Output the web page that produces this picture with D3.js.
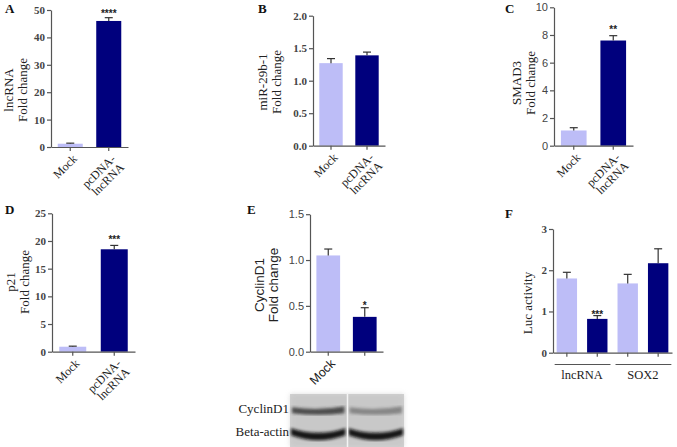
<!DOCTYPE html>
<html>
<head>
<meta charset="utf-8">
<script src="https://d3js.org/d3.v7.min.js"></script>
<style>
  body { margin: 0; background: #fff; }
  svg { display: block; }
</style>
</head>
<body>
<script>
// ---- data ----
var twoGroups = ["Mock", "pcDNA-\nlncRNA"];
var lncValues = [1.2, 46.0];
var lncErrors = [0.2, 1.2];
var lncTicks = [0, 10, 20, 30, 40, 50];

var mirValues = [1.27, 1.39];
var mirErrors = [0.07, 0.05];
var mirTicks = [0, 0.5, 1.0, 1.5, 2.0];

var smadValues = [1.1, 7.6];
var smadErrors = [0.2, 0.35];
var smadTicks = [0, 2, 4, 6, 8, 10];

var p21Values = [0.9, 18.5];
var p21Errors = [0.1, 0.7];
var p21Ticks = [0, 5, 10, 15, 20, 25];

var cyclinLabels = ["Mock", ""];
var cyclinValues = [1.05, 0.38];
var cyclinErrors = [0.07, 0.1];
var cyclinTicks = [0, 0.5, 1.0, 1.5];

var lucGroups = ["lncRNA", "SOX2"];
var lucBars = ["lncRNA-mock", "lncRNA-pc", "SOX2-mock", "SOX2-pc"];
var lucValues = [1.8, 0.82, 1.68, 2.17];
var lucErrors = [0.15, 0.08, 0.22, 0.35];
var lucTicks = [0, 1, 2, 3];

var blotRows = ["CyclinD1", "Beta-actin"];

var light = "#bdbdf7";
var navy = "#00007d";
var serif = "'Liberation Serif', 'DejaVu Serif', serif";
var sans = "'Liberation Sans', Arial, sans-serif";

var svg = d3.select("body").append("svg")
    .attr("width", 677)
    .attr("height", 447);

function panel(cfg) {
    var g = svg.append("g");
    var y = d3.scaleLinear().domain([0, cfg.max]).range([cfg.yBottom, cfg.yTop]);
    var x = d3.scaleBand().domain(cfg.keys).range([cfg.axisX, cfg.axisEnd])
        .paddingInner(cfg.padIn || 0.35).paddingOuter(cfg.padOut || 0.175);

    // bars
    g.selectAll(".bar").data(cfg.values).join("rect")
        .attr("x", (d, i) => x(cfg.keys[i]))
        .attr("y", d => y(d))
        .attr("width", x.bandwidth())
        .attr("height", d => cfg.yBottom - y(d))
        .attr("fill", (d, i) => cfg.colors[i]);

    // error bars (upper only)
    var eb = g.selectAll(".err").data(cfg.values).join("g");
    eb.append("line")
        .attr("x1", (d, i) => x(cfg.keys[i]) + x.bandwidth() / 2)
        .attr("x2", (d, i) => x(cfg.keys[i]) + x.bandwidth() / 2)
        .attr("y1", d => y(d))
        .attr("y2", (d, i) => y(d + cfg.errors[i]))
        .attr("stroke", "#333").attr("stroke-width", 1.2);
    eb.append("line")
        .attr("x1", (d, i) => x(cfg.keys[i]) + x.bandwidth() / 2 - 4)
        .attr("x2", (d, i) => x(cfg.keys[i]) + x.bandwidth() / 2 + 4)
        .attr("y1", (d, i) => y(d + cfg.errors[i]))
        .attr("y2", (d, i) => y(d + cfg.errors[i]))
        .attr("stroke", "#333").attr("stroke-width", 1.2);

    // stars
    if (cfg.stars) {
        cfg.stars.forEach(function(s, i) {
            if (!s) return;
            g.append("text")
                .attr("x", x(cfg.keys[i]) + x.bandwidth() / 2)
                .attr("y", y(cfg.values[i] + cfg.errors[i]) + (cfg.starDy || -1))
                .attr("text-anchor", "middle")
                .attr("font-family", sans)
                .attr("font-size", 10)
                .attr("font-weight", "bold")
                .attr("fill", "#222")
                .text(s);
        });
    }

    // y axis
    var ya = g.append("g")
        .attr("transform", "translate(" + cfg.axisX + ",0)")
        .call(d3.axisLeft(y).tickValues(cfg.ticks).tickFormat(cfg.fmt || d3.format("d"))
            .tickSize(4).tickSizeOuter(0).tickPadding(2));
    ya.selectAll("path, line").attr("stroke", "#555").attr("stroke-width", 1.2);
    ya.selectAll("text")
        .attr("font-family", cfg.tickFont || serif)
        .attr("font-size", 11)
        .attr("font-weight", cfg.tickFont === sans ? "normal" : "bold")
        .attr("fill", "#444");

    // x axis
    var xa = g.append("g")
        .attr("transform", "translate(0," + cfg.yBottom + ")")
        .call(d3.axisBottom(x).tickFormat("").tickSize(4).tickSizeOuter(0));
    xa.selectAll("path, line").attr("stroke", "#555").attr("stroke-width", 1.2);

    // rotated x labels
    if (cfg.labels) {
        cfg.labels.forEach(function(lab, i) {
            if (!lab) return;
            var cx = x(cfg.keys[i]) + x.bandwidth() / 2;
            var t = g.append("text")
                .attr("transform", "translate(" + (cx + 5) + "," + (cfg.yBottom + 10) + ") rotate(-45)")
                .attr("text-anchor", "end")
                .attr("font-family", cfg.labelFont || serif)
                .attr("font-size", cfg.labelFont === sans ? 12.5 : 12)
                .attr("fill", "#222");
            lab.split("\n").forEach(function(part, j) {
                t.append("tspan").attr("x", 0).attr("dy", j === 0 ? "0.3em" : "1.0em").text(part);
            });
        });
    }

    // y title
    var tt = g.append("text")
        .attr("transform", "translate(" + cfg.titleX + "," + cfg.titleY + ") rotate(-90)")
        .attr("text-anchor", "middle")
        .attr("font-family", cfg.titleFont || serif)
        .attr("font-size", cfg.titleFont === sans ? 13.5 : 13)
        .attr("fill", "#222");
    cfg.title.forEach(function(part, j) {
        tt.append("tspan").attr("x", 0).attr("dy", j === 0 ? 0 : 14).text(part);
    });

    // panel letter
    svg.append("text")
        .attr("x", cfg.letterX).attr("y", cfg.letterY)
        .attr("font-family", serif).attr("font-weight", "bold")
        .attr("font-size", 13).attr("fill", "#111")
        .text(cfg.letter);
    return {x: x, y: y};
}

panel({letter: "A", letterX: 5, letterY: 13,
    keys: ["m", "p"], values: lncValues, errors: lncErrors, colors: [light, navy],
    labels: twoGroups, stars: ["", "****"], starDy: -1,
    axisX: 51, axisEnd: 128, yTop: 10, yBottom: 147, max: 50, ticks: lncTicks,
    title: ["lncRNA", "Fold change"], titleX: 12.5, titleY: 90});

panel({letter: "B", letterX: 258, letterY: 13,
    keys: ["m", "p"], values: mirValues, errors: mirErrors, colors: [light, navy],
    labels: twoGroups, fmt: d3.format(".1f"),
    axisX: 313, axisEnd: 385, yTop: 15.7, yBottom: 145.7, max: 2, ticks: mirTicks,
    title: ["miR-29b-1", "Fold change"], titleX: 266.5, titleY: 82});

panel({letter: "C", letterX: 505, letterY: 13,
    keys: ["m", "p"], values: smadValues, errors: smadErrors, colors: [light, navy],
    labels: twoGroups, stars: ["", "**"], starDy: -3, tickFont: sans, labelFont: serif,
    axisX: 554, axisEnd: 633, yTop: 7.3, yBottom: 145.7, max: 10, ticks: smadTicks,
    title: ["SMAD3", "Fold change"], titleX: 521, titleY: 83});

panel({letter: "D", letterX: 5, letterY: 214,
    keys: ["m", "p"], values: p21Values, errors: p21Errors, colors: [light, navy],
    labels: twoGroups, stars: ["", "***"], starDy: -2,
    axisX: 52, axisEnd: 135, yTop: 213.3, yBottom: 351.7, max: 25, ticks: p21Ticks,
    title: ["p21", "Fold change"], titleX: 15, titleY: 282});

panel({letter: "E", letterX: 247, letterY: 214,
    keys: ["m", "p"], values: cyclinValues, errors: cyclinErrors, colors: [light, navy],
    labels: cyclinLabels, stars: ["", "*"], starDy: 1, fmt: d3.format(".1f"),
    tickFont: sans, labelFont: sans, titleFont: sans,
    axisX: 310, axisEnd: 383, yTop: 214.2, yBottom: 351.7, max: 1.5, ticks: cyclinTicks,
    title: ["CyclinD1", "Fold change"], titleX: 264, titleY: 285});

var f = panel({letter: "F", letterX: 505, letterY: 218,
    keys: lucBars, values: lucValues, errors: lucErrors, colors: [light, navy, light, navy],
    stars: ["", "***", "", ""], starDy: 2, padIn: 0.33, padOut: 0.12,
    axisX: 553, axisEnd: 672, yTop: 229, yBottom: 352.7, max: 3, ticks: lucTicks,
    title: ["Luc activity"], titleX: 532, titleY: 303});

// group brackets under panel F
lucGroups.forEach(function(grp, i) {
    var a = f.x(lucBars[i * 2]), b = f.x(lucBars[i * 2 + 1]) + f.x.bandwidth();
    svg.append("line")
        .attr("x1", a - 2).attr("x2", b + 3)
        .attr("y1", 364.5).attr("y2", 364.5)
        .attr("stroke", "#555").attr("stroke-width", 1.2);
    svg.append("text")
        .attr("x", (a + b) / 2).attr("y", 379)
        .attr("text-anchor", "middle")
        .attr("font-family", serif).attr("font-size", 12.5)
        .attr("fill", "#222")
        .text(grp);
});

// western blot strip under panel E
var defs = svg.append("defs");
defs.append("filter").attr("id", "blur").append("feGaussianBlur").attr("stdDeviation", 1.8);
defs.append("filter").attr("id", "blur2").append("feGaussianBlur").attr("stdDeviation", 2.4);

var blot = svg.append("g");
var blotX = d3.scaleBand().domain(["lane1", "lane2"]).range([290, 404]).paddingInner(0.02);
var blotY = d3.scaleBand().domain(blotRows).range([398, 446]).padding(0.1);

blot.append("rect").attr("x", 290).attr("y", 394).attr("width", 114).attr("height", 53)
    .attr("fill", "#d4d4d4");
blot.append("rect").attr("x", 290).attr("y", 394).attr("width", 114).attr("height", 53)
    .attr("fill", "#bdbdbd").attr("opacity", 0.5).attr("filter", "url(#blur2)");

// cyclinD1 bands: strong in lane 1, faint in lane 2
var cyclinBand = [0.75, 0.4];
var actinBand = [0.95, 0.95];
["lane1", "lane2"].forEach(function(l, i) {
    var x0 = blotX(l), w = blotX.bandwidth();
    var yc = blotY("CyclinD1") + 10;
    blot.append("path")
        .attr("d", "M" + (x0 + 2) + "," + (yc - 3) + " Q" + (x0 + w / 2) + "," + (yc + 1) + " " + (x0 + w - 2) + "," + (yc - 4) +
            " L" + (x0 + w - 2) + "," + (yc + 3) + " Q" + (x0 + w / 2) + "," + (yc + 6) + " " + (x0 + 2) + "," + (yc + 3) + "Z")
        .attr("fill", "#222").attr("opacity", cyclinBand[i]).attr("filter", "url(#blur)");
    var ya = blotY("Beta-actin") + 10;
    blot.append("path")
        .attr("d", "M" + (x0 + 1) + "," + (ya - 5) + " Q" + (x0 + w / 2) + "," + (ya + 4) + " " + (x0 + w - 1) + "," + (ya - 5) +
            " L" + (x0 + w - 1) + "," + (ya + 2) + " Q" + (x0 + w / 2) + "," + (ya + 12) + " " + (x0 + 1) + "," + (ya + 2) + "Z")
        .attr("fill", "#111").attr("opacity", actinBand[i]).attr("filter", "url(#blur)");
});
blot.append("line").attr("x1", 347.5).attr("x2", 347.5).attr("y1", 394).attr("y2", 447)
    .attr("stroke", "#f4f4f4").attr("stroke-width", 1.5);

blotRows.forEach(function(r) {
    svg.append("text")
        .attr("x", 289).attr("y", blotY(r) + 13)
        .attr("text-anchor", "end")
        .attr("font-family", serif).attr("font-size", 13)
        .attr("fill", "#222")
        .text(r);
});
</script>
</body>
</html>
